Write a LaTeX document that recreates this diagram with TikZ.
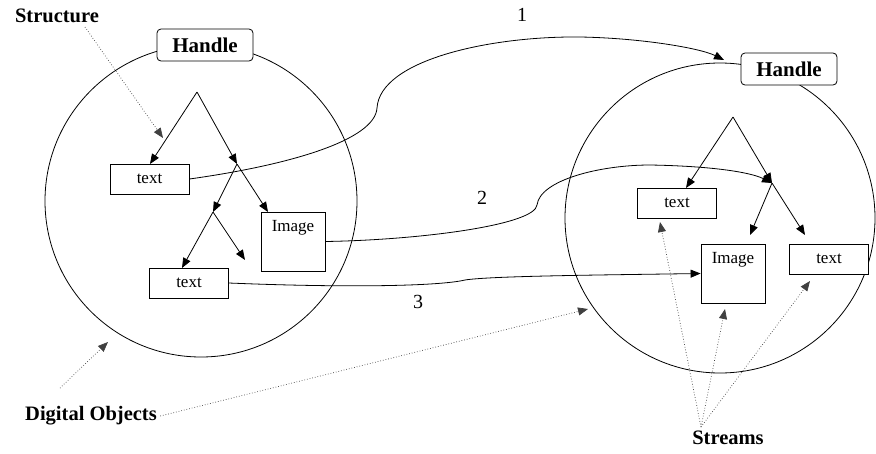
\documentclass[tikz,border=0pt]{standalone}
\usepackage{fontspec}
\setmainfont{Liberation Serif}
\usetikzlibrary{arrows.meta}
\begin{document}
\begin{tikzpicture}[x=1pt,y=-1pt,
  ln/.style={line width=0.8pt},
  tip/.style={-{Triangle[length=10pt,width=8pt]}},
  dots/.style={dotted,line width=0.7pt,black!75},
  box/.style={draw,line width=0.8pt,fill=white,inner sep=0pt},
  hbox/.style={draw,line width=0.8pt,fill=white,rounded corners=4pt,minimum width=96pt,minimum height=32pt,inner sep=0pt,font=\fontsize{21}{24}\selectfont\bfseries},
  tbox/.style={box,minimum width=79pt,minimum height=30pt,font=\fontsize{17}{20}\selectfont},
  ibox/.style={box,minimum width=64pt,minimum height=59pt},
  big/.style={font=\fontsize{20.5}{24}\selectfont\bfseries},
  num/.style={font=\fontsize{20}{24}\selectfont}]
\useasboundingbox (0,0) rectangle (876,453);
% circles
\node[draw,ln,circle,minimum size=312pt,inner sep=0pt] (c1) at (201,201) {};
\node[draw,ln,circle,minimum size=310pt,inner sep=0pt] (c2) at (720,218) {};
% handles
\node[hbox] (h1) at (205,45) {Handle};
\node[hbox] (h2) at (789,69) {Handle};
% left boxes
\node[tbox] (t1) at (149.5,179) {text};
\node[tbox] (t2) at (189,283) {text};
\node[ibox,label={[anchor=north,inner sep=0pt,yshift=-9pt,font=\fontsize{17}{20}\selectfont]north:Image}] (i1) at (293,241.5) {};
% right boxes
\node[tbox] (t3) at (677,203) {text};
\node[tbox] (t4) at (829,259) {text};
\node[ibox,label={[anchor=north,inner sep=0pt,yshift=-9pt,font=\fontsize{17}{20}\selectfont]north:Image}] (i2) at (733,273.5) {};
% left tree
\coordinate (a1) at (197,92);
\coordinate (j1) at (237,164);
\coordinate (j2) at (213,212);
\coordinate (e1) at (245,260);
\draw[ln,tip] (a1) -- (150,164);
\draw[ln,tip] (a1) -- (j1);
\draw[ln,tip] (j1) -- (j2);
\draw[ln,tip] (j1) -- (268,212);
\draw[ln,tip] (j2) -- (182,268);
\draw[ln,tip] (j2) -- (e1);
% right tree
\coordinate (a2) at (733,117);
\coordinate (j3) at (772,183);
\coordinate (e2) at (750,235);
\coordinate (e3) at (805,235);
\draw[ln,tip] (a2) -- (686,188);
\draw[ln,tip] (a2) -- (j3);
\draw[ln,tip] (j3) -- (e2);
\draw[ln,tip] (j3) -- (e3);
% connectors
\coordinate (h2w) at (724,60);
\draw[ln,tip] (t1.east) .. controls (290,165) and (375,140) .. (377,108)
  .. controls (380,60) and (490,36) .. (580,37)
  .. controls (640,38) and (700,48) .. (h2w);
\draw[ln,tip] (i1.east) .. controls (420,240) and (535,225) .. (537,205)
  .. controls (540,180) and (600,165) .. (650,165)
  .. controls (710,166) and (750,172) .. (j3);
\draw[ln,tip] (t2.east) .. controls (350,288) and (440,286) .. (465,280)
  .. controls (490,276) and (600,275) .. (i2.west);
% number labels
\node[num] (n1) at (522,15) {1};
\node[num] (n2) at (482,198) {2};
\node[num] (n3) at (418,302) {3};
% annotations
\node[big] (st) at (57,16) {Structure};
\node[big] (dobj) at (91,416) {Digital Objects};
\node[big] (str) at (728,438) {Streams};
\coordinate (s0) at (85,27);
\coordinate (d0) at (60,388);
\coordinate (d1) at (588,309);
\coordinate (d2) at (108,342);
\coordinate (r0) at (701,427);
\draw[dots,tip] (s0) -- (163,138);
\draw[dots,tip] (d0) -- (d2);
\draw[dots,tip] (dobj.east) -- (d1);
\draw[dots,tip] (r0) -- (660,222);
\draw[dots,tip] (r0) -- (725,309);
\draw[dots,tip] (r0) -- (810,281);
\end{tikzpicture}
\end{document}
